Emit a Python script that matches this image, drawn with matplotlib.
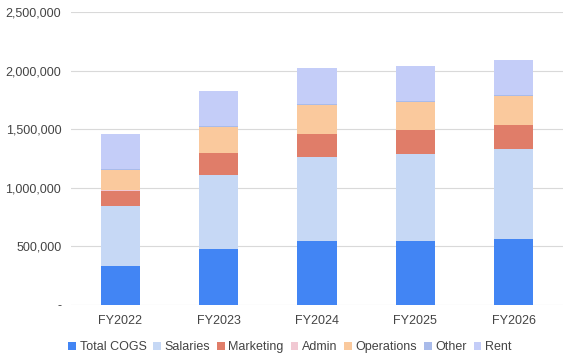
import matplotlib.pyplot as plt
from matplotlib.ticker import FuncFormatter
import numpy as np

plt.rcParams['font.family'] = ['Liberation Sans', 'DejaVu Sans']

years = ['FY2022', 'FY2023', 'FY2024', 'FY2025', 'FY2026']
series_names = ['Total COGS', 'Salaries', 'Marketing', 'Admin', 'Operations', 'Other', 'Rent']

total_cogs = [333000, 478000, 546000, 546000, 563000]
salaries = [512000, 634000, 717000, 742000, 765000]
marketing = [130000, 185000, 195000, 205000, 208000]
admin = [3000, 3000, 3000, 3000, 3000]
operations = [174000, 222000, 246000, 235000, 245000]
other = [8000, 8000, 8000, 8000, 8000]
rent = [299000, 296000, 307000, 300000, 298000]

colors = ['#4285F4', '#C6D8F5', '#E07D69', '#F1C9D3', '#FAC99D', '#A9BBEA', '#C4CDF8']

values = [total_cogs, salaries, marketing, admin, operations, other, rent]

fig = plt.figure(figsize=(5.74, 3.58), dpi=100)
ax = fig.add_axes([71 / 574, 1 - 305 / 358, 492 / 574, 293 / 358])

x = np.arange(len(years))
bottom = np.zeros(len(years))
for name, vals, c in zip(series_names, values, colors):
    ax.bar(x, vals, width=0.4, bottom=bottom, color=c, label=name, zorder=3)
    bottom += np.array(vals)

ax.set_xlim(-0.5, len(years) - 0.5)
ax.set_ylim(0, 2500000)
ax.set_yticks(np.arange(0, 2500001, 500000))
ax.yaxis.set_major_formatter(FuncFormatter(lambda v, p: '-' if v == 0 else f'{int(v):,}'))
ax.set_xticks(x)
ax.set_xticklabels(years)
ax.grid(axis='y', color='#d9d9d9', linewidth=0.8, zorder=0)
for s in ax.spines.values():
    s.set_visible(False)
ax.tick_params(axis='both', length=0, labelsize=9, colors='#444444')
ax.tick_params(axis='y', pad=7)
ax.tick_params(axis='x', pad=7)

ax.legend(loc='upper center', bbox_to_anchor=(0.445, -0.085), ncol=7, frameon=False,
          fontsize=9, handlelength=0.6, handleheight=0.6, handletextpad=0.3,
          columnspacing=0.55, labelcolor='#444444')

fig.savefig('out.png', dpi=100)
